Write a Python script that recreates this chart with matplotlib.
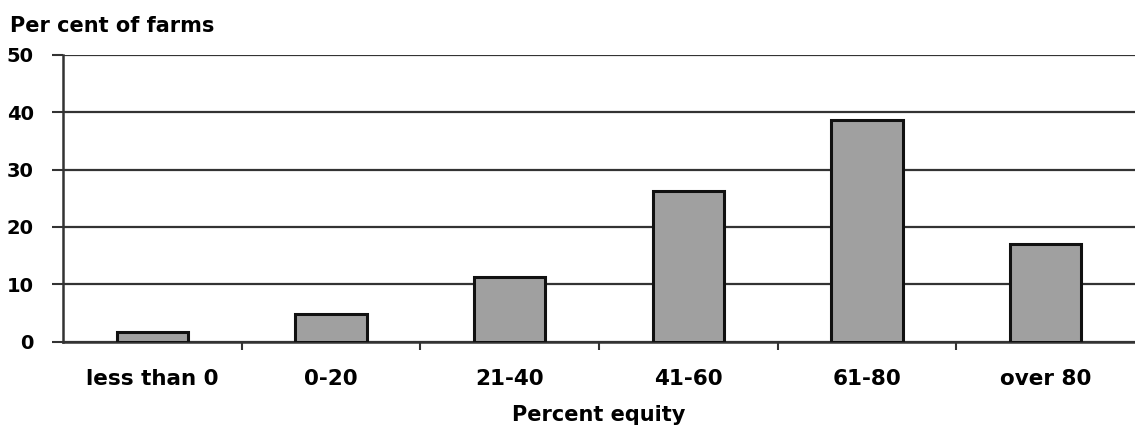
import numpy as np
import matplotlib.pyplot as plt

plt.rcParams['font.family'] = ['DejaVu Sans']
plt.rcParams['font.weight'] = 'bold'

categories = ['less than 0', '0-20', '21-40', '41-60', '61-80', 'over 80']
farms_pct = [1.7, 4.9, 11.2, 26.3, 38.7, 17.0]
yticks = [0, 10, 20, 30, 40, 50]

fig = plt.figure(figsize=(11.35, 4.26), dpi=100)
ax = fig.add_axes([0.0555, 0.198, 0.9445, 0.673])

x = np.arange(len(categories))
ax.bar(x, farms_pct, width=0.4, color='#a0a0a0', edgecolor='#111111',
       linewidth=2.2, zorder=3)

ax.set_xlim(-0.5, len(categories) - 0.5)
ax.set_ylim(0, 50)
ax.set_yticks(yticks)
ax.yaxis.grid(True, color='#333333', linewidth=1.6, zorder=0)
ax.set_axisbelow(True)

# ticks sit between categories, labels under bar centres
ax.set_xticks(x[:-1] + 0.5)
ax.set_xticklabels([])
ax.set_xticks(x, minor=True)
ax.set_xticklabels(categories, minor=True, fontsize=15.5, fontweight='bold')
ax.tick_params(axis='x', which='minor', length=0, pad=20)
ax.tick_params(axis='x', which='major', length=6, width=1.5, color='#333333')
ax.tick_params(axis='y', length=8, width=1.5, color='#333333', pad=13,
               labelsize=14)
for lab in ax.get_yticklabels():
    lab.set_fontweight('bold')

for side in ['top', 'right']:
    ax.spines[side].set_visible(False)
ax.spines['left'].set_color('#333333')
ax.spines['left'].set_linewidth(1.8)
ax.spines['bottom'].set_color('#333333')
ax.spines['bottom'].set_linewidth(1.8)

ax.set_xlabel('Percent equity', fontsize=15, fontweight='bold', labelpad=11)
fig.text(0.009, 0.94, 'Per cent of farms', fontsize=15, fontweight='bold',
         ha='left', va='center')

fig.savefig('out.png', dpi=100)
